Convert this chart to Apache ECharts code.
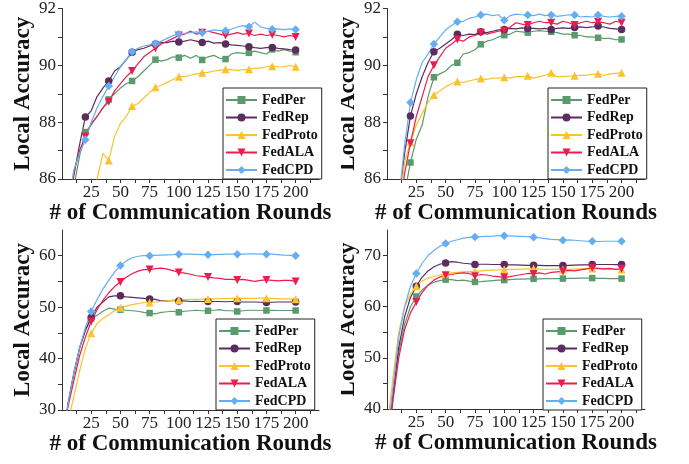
<!DOCTYPE html>
<html><head><meta charset="utf-8">
<script src="https://cdn.jsdelivr.net/npm/echarts@6/dist/echarts.min.js"></script>
<style>html,body{margin:0;padding:0;background:#fff}#c{width:689px;height:464px}</style>
</head><body><div id="c"></div>
<script>
// ---- data ----
const rounds = [1,5,10,15,20,25,30,35,40,45,50,55,60,65,70,75,80,85,90,95,100,105,110,115,120,125,130,135,140,145,150,155,160,165,170,175,180,185,190,195,200];
const methods = ['FedPer','FedRep','FedProto','FedALA','FedCPD'];
const topMarkers = [20,40,60,80,100,120,140,160,180,200];
const bottomMarkers = [25,50,75,100,125,150,175,200];
const xTicks = [12.5,25,37.5,50,62.5,75,87.5,100,112.5,125,137.5,150,162.5,175,187.5,200,212.5];
const xLabels = [25,50,75,100,125,150,175,200];
const tYTicks = [86,87,88,89,90,91,92];
const tYLabels = [86,88,90,92];
const blYTicks = [30,35,40,45,50,55,60];
const blYLabels = [30,40,50,60];
const brYTicks = [40,45,50,55,60,65,70];
const brYLabels = [40,50,60,70];

// top-left
const tlPer   = [82,84.2,85.7,86.8,87.65,87.9,88.2,88.5,88.8,89.0,89.2,89.35,89.45,89.6,89.8,90.0,90.2,90.15,90.2,90.3,90.27,90.35,90.25,90.35,90.19,90.3,90.35,90.25,90.22,90.4,90.45,90.42,90.44,90.5,90.45,90.4,90.56,90.5,90.55,90.5,90.46];
const tlRep   = [82.5,84.5,86.1,87.2,88.18,88.4,88.9,89.2,89.45,89.8,89.95,90.2,90.46,90.55,90.6,90.68,90.75,90.8,90.8,90.85,90.82,90.85,90.9,90.85,90.8,90.85,90.78,90.8,90.75,90.72,90.7,90.68,90.65,90.62,90.6,90.62,90.63,90.6,90.58,90.55,90.54];
const tlProto = [78,79.5,81,82.5,83.8,85.0,86.0,86.9,86.65,87.5,87.95,88.2,88.57,88.65,88.85,89.05,89.23,89.3,89.4,89.5,89.6,89.6,89.65,89.7,89.74,89.75,89.8,89.82,89.86,89.85,89.82,89.85,89.86,89.9,89.9,89.95,89.97,89.95,89.95,90.0,89.95];
const tlALA   = [82,84.3,86.2,87.0,87.5,87.95,88.2,88.5,88.72,89.1,89.35,89.6,89.8,90.05,90.3,90.45,90.6,90.75,90.85,90.95,91.05,91.1,91.2,91.1,91.15,91.2,91.15,91.1,91.05,91.1,91.15,91.1,91.12,91.05,91.1,91.05,91.08,91.05,91.0,91.05,91.0];
const tlCPD   = [82.5,84.8,86.3,86.9,87.38,88.0,88.5,88.9,89.27,89.6,89.95,90.2,90.48,90.6,90.68,90.72,90.77,90.85,90.95,91.05,91.09,91.12,91.15,91.18,91.15,91.2,91.25,91.22,91.22,91.28,91.35,91.4,91.36,91.52,91.35,91.3,91.27,91.28,91.26,91.28,91.26];
// top-right
const trPer   = [80,82,84,85.5,86.58,87.4,87.9,88.9,89.58,89.7,89.8,90.0,90.09,90.4,90.45,90.55,90.74,90.85,90.9,91.0,91.06,91.1,91.2,91.18,91.15,91.2,91.22,91.2,91.18,91.15,91.1,91.1,91.06,91.05,91.0,91.0,90.97,90.95,90.95,90.9,90.91];
const trRep   = [81,83,85,86.9,88.22,89.0,89.6,90.1,90.48,90.6,90.75,90.9,91.09,91.05,91.1,91.08,91.18,91.15,91.2,91.25,91.26,91.3,91.28,91.32,91.3,91.3,91.28,91.3,91.26,91.3,91.32,91.3,91.33,91.35,91.33,91.35,91.38,91.35,91.3,91.28,91.26];
const trProto = [81,83,85.0,86.6,87.3,87.9,88.3,88.7,88.96,89.1,89.25,89.35,89.43,89.4,89.45,89.5,89.54,89.5,89.55,89.55,89.58,89.55,89.6,89.6,89.63,89.55,89.6,89.65,89.74,89.6,89.6,89.62,89.63,89.65,89.65,89.68,89.7,89.65,89.7,89.72,89.74];
const trALA   = [80.5,82.5,84.5,86.2,87.26,88.2,88.9,89.6,90.0,90.3,90.6,90.75,90.91,90.85,91.0,91.05,91.15,91.1,91.15,91.2,91.22,91.35,91.5,91.45,91.42,91.5,91.55,91.5,91.5,91.45,91.55,91.5,91.42,91.5,91.55,91.5,91.53,91.5,91.45,91.55,91.5];
const trCPD   = [81,83,85.2,87.2,88.69,89.5,90.1,90.4,90.75,91.0,91.25,91.4,91.53,91.55,91.65,91.7,91.77,91.8,91.75,91.78,91.59,91.75,91.8,91.78,91.77,91.75,91.8,91.75,91.77,91.72,91.75,91.78,91.77,91.7,91.72,91.7,91.77,91.72,91.7,91.72,91.73];
// bottom-left
const blPer   = [24,31,37,42,45.5,47.8,48.4,49.2,49.8,49.6,49.5,49.4,49.3,49.2,49.0,48.85,48.7,49.0,49.1,49.2,49.0,49.2,49.3,49.4,49.3,49.3,49.4,49.5,49.3,49.3,49.16,49.3,49.4,49.4,49.35,49.35,49.4,49.35,49.35,49.35,49.35];
const blRep   = [24,31,37,42,45.5,48.0,50.0,51.0,52.0,52.2,52.2,52.0,51.9,51.8,51.7,51.6,51.5,51.2,51.2,51.3,51.2,51.2,51.1,51.15,51.1,51.1,51.1,51.1,51.05,51.1,51.1,51.0,51.0,51.0,50.95,50.9,50.95,51.0,51.0,51.0,51.0];
const blProto = [20,27.5,32.5,37.5,42,44.9,46.8,47.8,48.5,49.3,49.9,50.2,50.5,50.7,50.9,50.9,51.0,51.1,51.2,51.3,51.4,51.45,51.5,51.5,51.55,51.6,51.6,51.65,51.65,51.7,51.75,51.7,51.7,51.7,51.75,51.75,51.7,51.65,51.6,51.6,51.55];
const blALA   = [23,30.5,35.5,40.5,44.2,47.2,49.5,51.3,52.8,54,54.9,55.8,56.5,57.0,57.3,57.3,57.5,57.6,57.4,57.1,56.75,56.6,56.4,56.1,56.0,55.85,55.7,55.6,55.4,55.4,55.3,55.4,55.2,55.0,55.2,55.3,55.2,55.1,55.2,55.2,55.0];
const blCPD   = [24,31,37,42,46,49.16,51.5,53.5,55.2,56.8,58.1,59.0,59.6,59.9,60.0,60.0,60.05,60.1,60.15,60.2,60.3,60.3,60.3,60.25,60.2,60.2,60.2,60.25,60.3,60.3,60.3,60.3,60.35,60.35,60.3,60.3,60.3,60.2,60.1,60.05,60.0];
// bottom-right
const brPer   = [34,42,51,56.5,60,62.0,63.3,64.2,64.8,65.1,65.3,65.3,65.1,65.2,65.0,64.85,64.9,65.0,65.1,65.2,65.2,65.3,65.4,65.4,65.45,65.45,65.45,65.5,65.5,65.5,65.5,65.55,65.55,65.6,65.6,65.6,65.55,65.55,65.5,65.5,65.5];
const brRep   = [35,43,52,58,61.8,64.0,65.8,67.0,67.8,68.3,68.56,68.8,68.7,68.5,68.4,68.24,68.3,68.3,68.25,68.25,68.24,68.2,68.2,68.15,68.1,68.1,68.1,68.05,68.05,68.05,68.05,68.1,68.15,68.2,68.2,68.24,68.25,68.25,68.25,68.24,68.24];
const brProto = [38,46,55,60,62.5,64.0,65.0,65.6,65.9,66.2,66.4,66.6,66.7,66.8,66.85,66.9,67.0,67.1,67.15,67.2,67.26,67.3,67.3,67.35,67.4,67.4,67.35,67.3,67.3,67.3,67.26,67.3,67.35,67.4,67.45,67.45,67.4,67.35,67.3,67.3,67.26];
const brALA   = [33,41.5,50,55.5,58.8,60.9,62.8,64.2,65.2,65.8,66.15,66.3,66.5,66.6,66.5,65.95,66.3,66.2,66.0,65.9,65.75,65.9,66.1,66.3,66.5,66.4,66.6,66.4,66.7,66.8,66.9,67.1,67.0,67.2,67.4,67.6,67.5,67.4,67.5,67.3,67.4];
const brCPD   = [36,44,54,60,64,66.5,68.5,70.0,71.0,71.8,72.35,72.8,73.1,73.4,73.55,73.65,73.7,73.75,73.8,73.9,73.9,73.85,73.8,73.75,73.7,73.6,73.45,73.3,73.15,73.1,73.0,73.05,73.0,72.9,72.8,72.8,72.75,72.8,72.8,72.8,72.8];

// ---- styling ----
const colors = ['#5a9a6b','#5b2d5e','#fcc22c','#ec1c4e','#66aef2'];
const symbols = ['rect','circle','triangle','triangle','diamond'];
const rotates = [0,0,0,180,0];
const msizes = [6.5,7.5,8,8,8.5];
const SERIF = 'Liberation Serif';

const panels = [
  {vals:[tlPer,tlRep,tlProto,tlALA,tlCPD], markers:topMarkers, grid:{left:62,top:8,width:257,height:171}, ymin:86, ymax:92, yt:tYTicks, yl:tYLabels, lg:{left:223,top:88}, xGap:22},
  {vals:[trPer,trRep,trProto,trALA,trCPD], markers:topMarkers, grid:{left:387,top:8,width:258,height:171}, ymin:86, ymax:92, yt:tYTicks, yl:tYLabels, lg:{left:548,top:88}, xGap:22},
  {vals:[blPer,blRep,blProto,blALA,blCPD], markers:bottomMarkers, grid:{left:62,top:230,width:257,height:180}, ymin:30, ymax:65, yt:blYTicks, yl:blYLabels, lg:{left:216,top:319}, xGap:21},
  {vals:[brPer,brRep,brProto,brALA,brCPD], markers:bottomMarkers, grid:{left:387,top:230,width:258,height:179}, ymin:40, ymax:75, yt:brYTicks, yl:brYLabels, lg:{left:543,top:319}, xGap:22}
];

const grids=[], xAxes=[], yAxes=[], series=[], legends=[];
panels.forEach((p,i)=>{
  grids.push(Object.assign({containLabel:false}, p.grid));
  xAxes.push({
    type:'value', gridIndex:i, min:0, max:220,
    name:'# of Communication Rounds', nameLocation:'middle', nameGap:p.xGap,
    nameTextStyle:{fontFamily:SERIF, fontWeight:'bold', fontSize:23, color:'#111'},
    axisLine:{onZero:false, lineStyle:{color:'#333', width:1}},
    axisTick:{show:true, length:4, customValues:xTicks, lineStyle:{color:'#333'}},
    axisLabel:{customValues:xLabels, fontFamily:SERIF, fontSize:17, color:'#222', margin:5},
    splitLine:{show:false}
  });
  yAxes.push({
    type:'value', gridIndex:i, min:p.ymin, max:p.ymax,
    name:'Local Accuracy', nameLocation:'middle', nameGap:27,
    nameTextStyle:{fontFamily:SERIF, fontWeight:'bold', fontSize:23, color:'#111'},
    axisLine:{show:true, onZero:false, lineStyle:{color:'#333', width:1}},
    axisTick:{show:true, length:4, customValues:p.yt, lineStyle:{color:'#333'}},
    axisLabel:{customValues:p.yl, fontFamily:SERIF, fontSize:17, color:'#222', margin:6},
    splitLine:{show:false}
  });
  methods.forEach((m,k)=>{
    const vals = p.vals[k];
    const mk = p.markers;
    series.push({
      type:'line', name:m, xAxisIndex:i, yAxisIndex:i,
      data: rounds.map((r,j)=>[r, vals[j]]),
      symbol:symbols[k], symbolRotate:rotates[k],
      symbolSize:(v)=> mk.indexOf(v[0])>=0 ? msizes[k] : 0,
      showSymbol:true, clip:true,
      lineStyle:{color:colors[k], width:1.2},
      itemStyle:{color:colors[k]},
      emphasis:{disabled:true},
      animation:false
    });
  });
  legends.push({
    left:p.lg.left, top:p.lg.top, orient:'vertical', data:methods,
    itemWidth:31, itemHeight:10, itemGap:3.5, padding:[5,4,2,2],
    borderColor:'#222', borderWidth:1, borderRadius:0, backgroundColor:'#fff',
    selectedMode:false,
    textStyle:{fontFamily:SERIF, fontWeight:'bold', fontSize:14, color:'#111', lineHeight:14}
  });
});

const chart = echarts.init(document.getElementById('c'), null, {renderer:'canvas'});
chart.setOption({
  animation:false,
  backgroundColor:'#fff',
  grid:grids, xAxis:xAxes, yAxis:yAxes, legend:legends, series:series,
  // the right-hand panels are cropped sub-figures: their y titles are cut at the left edge
  graphic:[
    {type:'rect', z:100, silent:true, shape:{x:326, y:0, width:15, height:196}, style:{fill:'#fff'}},
    {type:'rect', z:100, silent:true, shape:{x:326, y:228, width:15, height:200}, style:{fill:'#fff'}}
  ]
});
</script>
</body></html>
